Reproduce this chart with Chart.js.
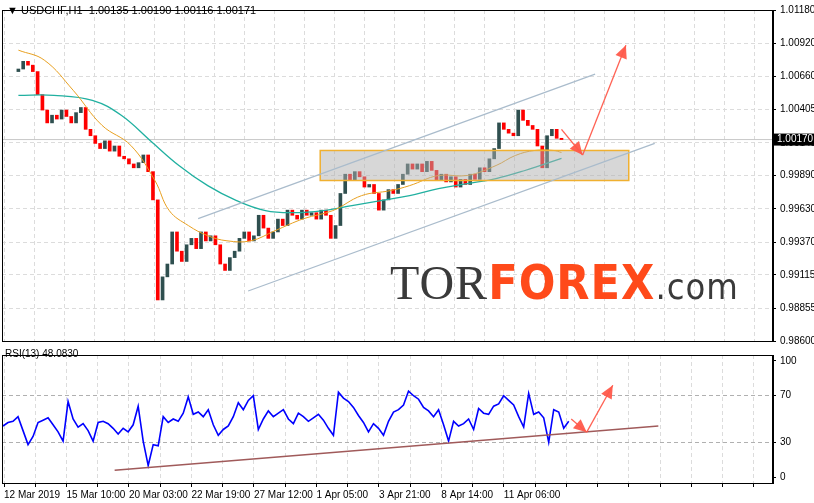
<!DOCTYPE html>
<html><head><meta charset="utf-8">
<script src="https://cdn.jsdelivr.net/npm/chart.js@4"></script>
<style>
body{margin:0;background:#fff;width:814px;height:503px;overflow:hidden;position:relative;font-family:"Liberation Sans",Arial,sans-serif}
.box{position:absolute;left:0;overflow:hidden}
#hdr{position:absolute;left:7px;top:4px;font-size:11px;color:#000;white-space:pre}
#rsih{position:absolute;left:5px;top:348px;font-size:10px;color:#000}
#logo{position:absolute;left:390px;top:254px;font-size:48px;font-family:"Liberation Sans Narrow","DejaVu Sans Condensed",sans-serif;letter-spacing:1px}
</style></head><body>
<div class="box" style="top:0;width:814px;height:345px"><canvas id="c1" width="814" height="351"></canvas></div>
<div class="box" style="top:345px;width:814px;height:158px"><canvas id="c2" width="814" height="158"></canvas></div>
<div id="hdr">▼ USDCHF,H1  1.00135 1.00190 1.00116 1.00171</div>
<div id="rsih">RSI(13) 48.0830</div>
<div id="logo"><span style="color:#3a3a3a;font-family:'Liberation Serif',serif;font-weight:normal">TOR</span><span style="color:#ff4a1a;font-weight:bold">FOREX</span><span style="color:#3a3a3a;font-size:36px">.com</span></div>
<script>
const closes=[1.0072,1.0078,1.0075,1.0070,1.0052,1.0040,1.0030,1.0036,1.0033,1.0040,1.0035,1.0030,1.0038,1.0042,1.0025,1.0020,1.0014,1.0010,1.0016,1.0008,1.0012,1.0004,1.0002,0.9998,0.9995,0.9999,1.0005,0.9992,0.9970,0.9892,0.9910,0.9920,0.9945,0.9930,0.9922,0.9935,0.9940,0.9932,0.9945,0.9938,0.9942,0.9935,0.9920,0.9915,0.9925,0.9930,0.9940,0.9945,0.9938,0.9942,0.9958,0.9948,0.9940,0.9945,0.9955,0.9950,0.9962,0.9958,0.9955,0.9962,0.9958,0.9960,0.9955,0.9962,0.9958,0.9940,0.9950,0.9975,0.9990,0.9985,0.9992,0.9988,0.9980,0.9982,0.9975,0.9962,0.9970,0.9978,0.9975,0.9982,0.9990,0.9998,0.9994,0.9998,0.9992,1.0000,0.9993,0.9985,0.9990,0.9984,0.9988,0.9980,0.9986,0.9982,0.9990,0.9986,0.9995,0.9992,1.0002,1.0010,1.0030,1.0025,1.0022,1.0020,1.0040,1.0032,1.0028,1.0025,1.0012,0.9995,1.0020,1.0025,1.0018,1.0017];
const maFast=[[0,1.00867],[5.4,1.00789],[11.4,1.00554],[17.4,1.00281],[23.4,1.00124],[28.4,0.99851],[31.4,0.99616],[35.4,0.99499],[39.4,0.99421],[43.4,0.99381],[48.4,0.99381],[53.4,0.99460],[59.4,0.99554],[65.4,0.99616],[71.4,0.99733],[77.4,0.99772],[81.4,0.99811],[87.4,0.99890],[93.4,0.99890],[99.4,0.99968],[103.4,1.00046],[107.4,1.00085],[111.4,1.00085],[113,1.00069]];
const maSlow=[[0,1.00515],[7.4,1.00515],[15.4,1.00476],[21.4,1.00359],[27.4,1.00163],[33.4,0.99968],[39.4,0.99811],[45.4,0.99694],[51.4,0.99616],[57.4,0.99600],[63.4,0.99616],[69.4,0.99655],[75.4,0.99694],[81.4,0.99733],[87.4,0.99788],[93.4,0.99827],[99.4,0.99866],[105.4,0.99929],[113,1.00023]];
const rsi=[44,47,48,52,40,28,35,47,49,51,45,39,31,65,50,43,46,40,31,47,48,46,42,37,42,39,45,61,31,10,28,27,52,47,50,48,55,69,54,56,52,58,45,36,41,44,52,64,58,66,70,41,50,57,52,55,58,50,46,55,52,48,51,54,49,42,36,73,68,65,60,53,47,39,46,42,36,48,56,58,62,74,70,67,60,57,52,58,45,31,48,44,46,50,41,59,55,54,61,63,70,66,62,52,43,72,54,56,51,30,58,56,42,48];
const priceTicks=[1.01180,1.00920,1.00660,1.00405,1.00145,0.99890,0.99630,0.99370,0.99115,0.98855,0.98600];
const rsiTicks=[0,30,70,100];
const dateLabels=["12 Mar 2019","15 Mar 10:00","20 Mar 03:00","22 Mar 19:00","27 Mar 12:00","1 Apr 05:00","3 Apr 21:00","8 Apr 14:00","11 Apr 06:00"];
const channelUp=[[37.4,0.99554],[120,1.00680]];
const channelDn=[[47.8,0.98990],[132.4,1.00140]];
const zoneBox=[62.8,127,1.00085,0.99851];
const priceArrows=[[[113,1.0025],[117.4,1.0005]],[[117.4,1.0005],[126.4,1.00906]]];
const rsiLine=[[22.3,5.9],[130.9,43.9]];
const rsiArrows=[[[113.5,50],[116.6,38.7]],[[116.6,38.7],[121.8,79]]];

const XMIN=-0.2,XMAX=153.8,GSTEP=6.24;
const gridX=[];for(let v=0.2;v<XMAX;v+=GSTEP)gridX.push(v);
const bodies=closes.map((c,i)=>({x:i,y:[i?closes[i-1]:c-0.0002,c]}));
const bodyCol=closes.map((c,i)=>c>=(i?closes[i-1]:c-0.0002)?'#2f4f4f':'#ff0000');
const red='rgba(255,90,75,0.95)';
function arrow(ctx,x1,y1,x2,y2,col){ctx.strokeStyle=col;ctx.fillStyle=col;ctx.lineWidth=1.3;ctx.beginPath();ctx.moveTo(x1,y1);ctx.lineTo(x2,y2);ctx.stroke();
 const a=Math.atan2(y2-y1,x2-x1),L=13,W=6;ctx.beginPath();ctx.moveTo(x2,y2);ctx.lineTo(x2-L*Math.cos(a)+W*Math.sin(a),y2-L*Math.sin(a)-W*Math.cos(a));ctx.lineTo(x2-L*Math.cos(a)-W*Math.sin(a),y2-L*Math.sin(a)+W*Math.cos(a));ctx.closePath();ctx.fill();}
const frame={id:'frame',afterDraw(ch){const a=ch.chartArea,c=ch.ctx;c.save();c.strokeStyle='#000';c.lineWidth=1;c.strokeRect(a.left+0.5,a.top+0.5,a.right-a.left-1,a.bottom-a.top);c.restore();}};
const deco1={id:'deco1',beforeDatasetsDraw(ch){const x=ch.scales.x,y=ch.scales.y,c=ch.ctx,last=closes[closes.length-1];c.save();c.strokeStyle='#c8c8c8';c.lineWidth=1;c.beginPath();c.moveTo(ch.chartArea.left,y.getPixelForValue(last));c.lineTo(ch.chartArea.right,y.getPixelForValue(last));c.stroke();c.restore();},
afterDatasetsDraw(ch){const x=ch.scales.x,y=ch.scales.y,c=ch.ctx;c.save();
 const X=v=>x.getPixelForValue(v),Y=v=>y.getPixelForValue(v);
 c.fillStyle='rgba(175,175,175,0.5)';c.strokeStyle='#f0b030';c.lineWidth=1.5;const bx=X(zoneBox[0]),by=Y(zoneBox[2]),bw=X(zoneBox[1])-bx,bh=Y(zoneBox[3])-by;c.fillRect(bx,by,bw,bh);c.strokeRect(bx,by,bw,bh);
 c.strokeStyle='#aabccc';c.lineWidth=1.2;[channelUp,channelDn].forEach(l=>{c.beginPath();c.moveTo(X(l[0][0]),Y(l[0][1]));c.lineTo(X(l[1][0]),Y(l[1][1]));c.stroke();});
 priceArrows.forEach(a=>arrow(c,X(a[0][0]),Y(a[0][1]),X(a[1][0]),Y(a[1][1]),red));
 c.restore();},
afterDraw(ch){const y=ch.scales.y,c=ch.ctx,last=closes[closes.length-1],py=y.getPixelForValue(last);c.save();c.fillStyle='#000';c.fillRect(ch.chartArea.right+1,py-6,40,12);c.fillStyle='#fff';c.font='10px "Liberation Sans"';c.textBaseline='middle';c.fillText(last.toFixed(5),ch.chartArea.right+4,py);c.restore();}};
const deco2={id:'deco2',afterDatasetsDraw(ch){const x=ch.scales.x,y=ch.scales.y,c=ch.ctx;c.save();const X=v=>x.getPixelForValue(v),Y=v=>y.getPixelForValue(v);
 c.strokeStyle='#a05a5a';c.lineWidth=1.5;c.beginPath();c.moveTo(X(rsiLine[0][0]),Y(rsiLine[0][1]));c.lineTo(X(rsiLine[1][0]),Y(rsiLine[1][1]));c.stroke();
 rsiArrows.forEach(a=>arrow(c,X(a[0][0]),Y(a[0][1]),X(a[1][0]),Y(a[1][1]),red));c.restore();}};
const font={family:'"Liberation Sans"',size:10};
new Chart(document.getElementById('c1'),{type:'bar',data:{datasets:[
 {type:'line',data:maFast.map(p=>({x:p[0],y:p[1]})),borderColor:'#e8a020',borderWidth:1,pointRadius:0,tension:0.4},
 {type:'line',data:maSlow.map(p=>({x:p[0],y:p[1]})),borderColor:'#20b0a0',borderWidth:1.3,pointRadius:0,tension:0.4},
 {data:bodies,backgroundColor:bodyCol,barThickness:3,minBarLength:1}]},
 options:{responsive:false,animation:false,plugins:{legend:{display:false},tooltip:{enabled:false}},layout:{padding:{left:2,top:2,bottom:0,right:0}},
 scales:{x:{type:'linear',min:XMIN,max:XMAX,afterBuildTicks:s=>{s.ticks=gridX.map(v=>({value:v}));},afterFit:s=>{s.height=0;},ticks:{display:false},grid:{color:'#dcdcdc',drawTicks:false},border:{display:false,dash:[4,3]}},
 y:{position:'right',min:0.98600,max:1.01180,afterBuildTicks:s=>{s.ticks=priceTicks.map(v=>({value:v}));},afterFit:s=>{s.width=41;},ticks:{font,color:'#000',padding:4,callback:v=>v.toFixed(5)},grid:{color:'#dcdcdc',tickLength:3,tickColor:'#000'},border:{color:'#000',dash:[4,3]}}}},plugins:[deco1,frame]});
new Chart(document.getElementById('c2'),{type:'line',data:{datasets:[{data:rsi.map((v,i)=>({x:i,y:v})),borderColor:'#0000ff',borderWidth:1.6,pointRadius:0}]},
 options:{responsive:false,animation:false,plugins:{legend:{display:false},tooltip:{enabled:false}},layout:{padding:{left:2,top:2,right:0,bottom:0}},
 scales:{x:{type:'linear',min:XMIN,max:XMAX,afterBuildTicks:s=>{s.ticks=gridX.map(v=>({value:v}));},afterFit:s=>{s.height=20;},ticks:{font,color:'#000',maxRotation:0,autoSkip:false,align:'start',padding:2,callback:(v,i)=>i%2===0&&dateLabels[i/2]?dateLabels[i/2]:''},grid:{color:'#dcdcdc',drawTicks:true,tickLength:4,tickColor:'#000'},border:{color:'#000',dash:[4,3]}},
 y:{position:'right',min:-5,max:105,afterBuildTicks:s=>{s.ticks=rsiTicks.map(v=>({value:v}));},afterFit:s=>{s.width=41;},ticks:{font,color:'#000',padding:4},grid:{color:c=>(c.tick&&(c.tick.value===30||c.tick.value===70))?'#b0b0b0':'rgba(0,0,0,0)',tickLength:3,tickColor:'#000'},border:{color:'#000',dash:[4,3]}}}},plugins:[deco2,frame]});
</script></body></html>
